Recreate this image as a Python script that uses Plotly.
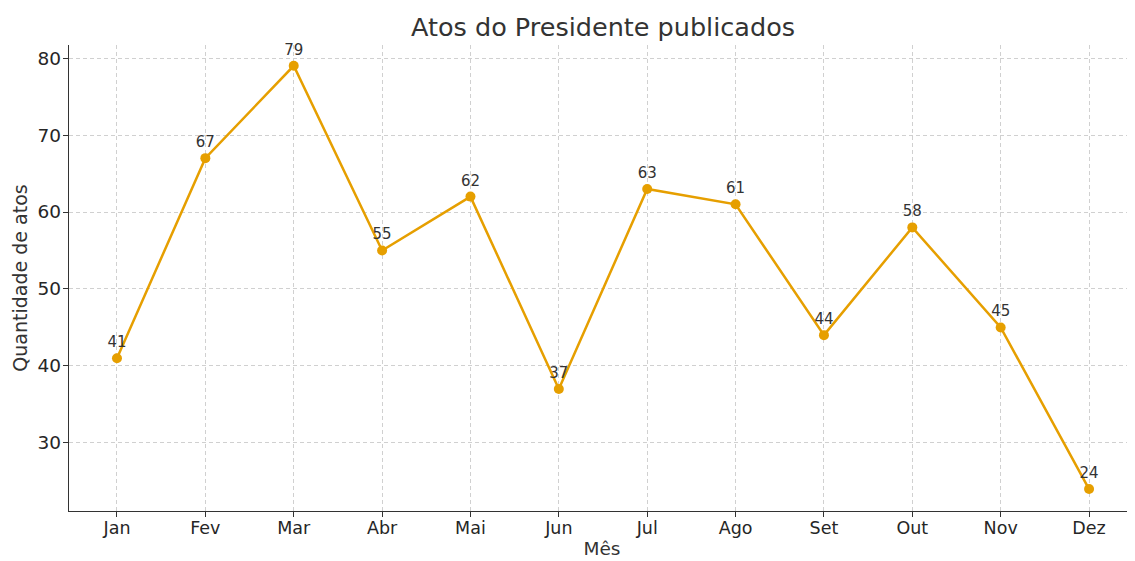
import plotly.graph_objects as go

meses = ["Jan", "Fev", "Mar", "Abr", "Mai", "Jun", "Jul", "Ago", "Set", "Out", "Nov", "Dez"]
atos = [41, 67, 79, 55, 62, 37, 63, 61, 44, 58, 45, 24]
yticks = [30, 40, 50, 60, 70, 80]

color = "#E69F00"
font = "DejaVu Sans"
xidx = list(range(len(meses)))

# page body has an 8px margin: figure occupies x 8..1135, y 8..561
W, H = 1127, 553

fig = go.Figure()
fig.add_trace(go.Scatter(
    x=xidx, y=atos, mode="lines+markers+text",
    line=dict(color=color, width=2.5),
    marker=dict(color=color, size=10),
    text=[str(v) for v in atos], textposition="top center",
    textfont=dict(family=font, size=15, color="#333333"),
    cliponaxis=False, showlegend=False,
))

fig.update_layout(
    width=W, height=H,
    margin=dict(l=61, r=0, t=37, b=50),
    plot_bgcolor="white", paper_bgcolor="white",
    font=dict(family=font, color="#262626"),
    title=dict(text="Atos do Presidente publicados", x=(603 - 8) / W, xanchor="center",
               y=1 - 19 / H, yanchor="middle", font=dict(size=25.5, color="#333333")),
)
fig.update_xaxes(
    range=[-0.543, 11.52], tickmode="array", tickvals=xidx, ticktext=meses,
    showgrid=True, gridcolor="#d0d0d0", griddash="4px,3px", gridwidth=1,
    showline=True, linecolor="#333333", linewidth=1.3,
    ticks="outside", ticklen=5, tickcolor="#333333", ticklabelstandoff=-4,
    tickfont=dict(size=17.5, color="#262626"), zeroline=False,
    title=dict(text="Mês", font=dict(size=18.5, color="#333333"), standoff=4),
)
fig.update_yaxes(
    range=[21.15, 81.7], tickmode="array", tickvals=yticks,
    showgrid=True, gridcolor="#d0d0d0", griddash="4px,3px", gridwidth=1,
    showline=True, linecolor="#333333", linewidth=1.3,
    ticks="outside", ticklen=5, tickcolor="#333333", ticklabelstandoff=-2,
    tickfont=dict(size=18.5, color="#262626"), zeroline=False,
    title=dict(text="Quantidade de atos", font=dict(size=19, color="#333333"), standoff=4),
)

fig.write_html("out.html")
